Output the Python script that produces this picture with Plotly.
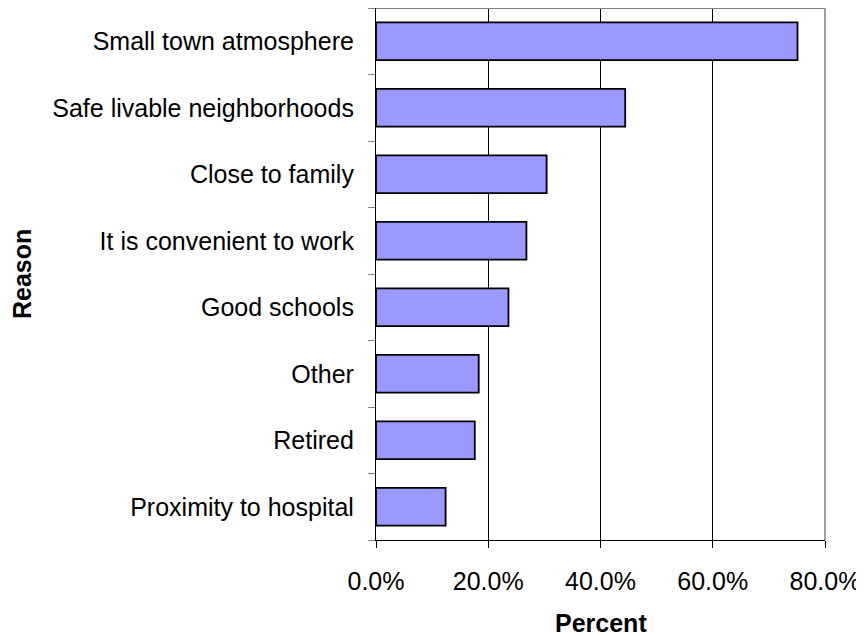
import plotly.graph_objects as go

categories = ["Small town atmosphere", "Safe livable neighborhoods", "Close to family",
              "It is convenient to work", "Good schools", "Other", "Retired",
              "Proximity to hospital"]
values = [75.1, 44.4, 30.4, 26.8, 23.6, 18.3, 17.6, 12.4]
x_ticks = [0, 20, 40, 60, 80]
x_tick_labels = ["0.0%", "20.0%", "40.0%", "60.0%", "80.0%"]

font_family = "Liberation Sans, Arial, sans-serif"
FS = 25

fig = go.Figure(go.Bar(
    x=values,
    y=categories,
    orientation="h",
    marker=dict(color="#9999FF", line=dict(color="black", width=1.8)),
))

fig.update_layout(
    width=864, height=636,
    margin=dict(l=368, r=47, t=0, b=104),
    paper_bgcolor="white", plot_bgcolor="white",
    bargap=0.43,
    showlegend=False,
    font=dict(family=font_family, size=FS, color="black"),
)

fig.update_xaxes(
    range=[0, 80],
    tickvals=x_ticks, ticktext=x_tick_labels,
    showgrid=True, gridcolor="black", gridwidth=1,
    showline=True, linecolor="black", linewidth=1.2, mirror=False,
    ticks="outside", ticklen=7, tickcolor="black",
    ticklabelstandoff=12,
    zeroline=False,
)

fig.update_yaxes(
    categoryorder="array", categoryarray=categories[::-1],
    showgrid=False,
    showline=True, linecolor="black", linewidth=1.2, mirror=False,
    ticks="outside", ticklen=7, tickcolor="#808080", tickson="boundaries",
    ticklabelstandoff=16,
)

fig.add_shape(type="line", xref="paper", yref="paper", x0=0, x1=1, y0=1, y1=1,
              line=dict(color="#808080", width=2))
fig.add_shape(type="line", xref="paper", yref="paper", x0=1, x1=1, y0=0, y1=1,
              line=dict(color="#808080", width=1.5))

fig.add_annotation(text="<b>Reason</b>", xref="paper", yref="paper",
                   x=-0.7884, y=0.5, xanchor="center", yanchor="middle",
                   textangle=-90, showarrow=False, font=dict(size=FS))
fig.add_annotation(text="<b>Percent</b>", xref="paper", yref="paper",
                   x=0.5, y=-0.156, xanchor="center", yanchor="middle",
                   showarrow=False, font=dict(size=FS))

fig.write_html("out.html")
